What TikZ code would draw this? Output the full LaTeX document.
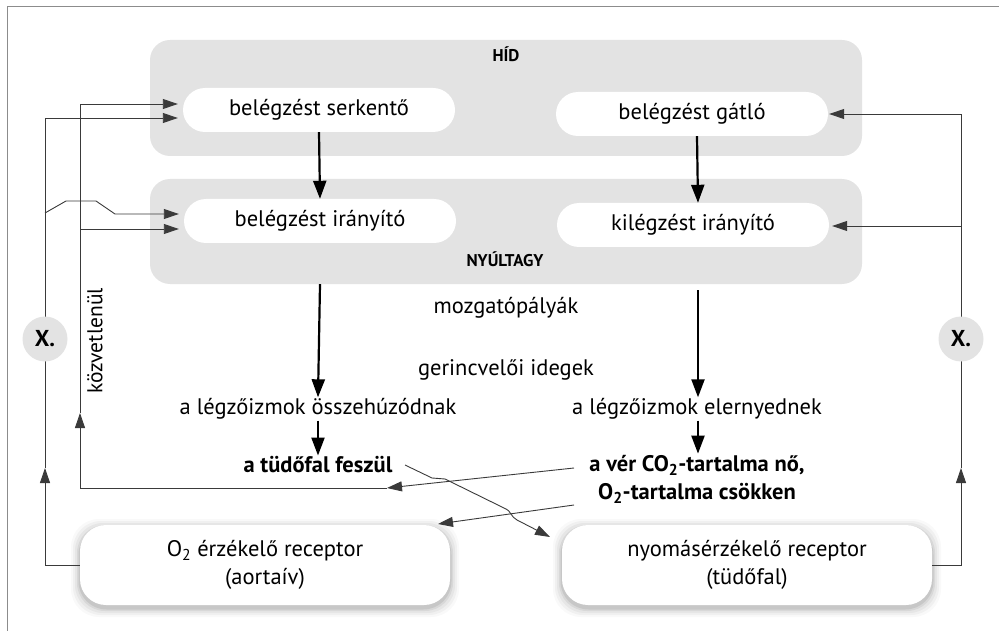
\documentclass[tikz,border=0pt]{standalone}
\usepackage{fontspec}
\setmainfont{PT Sans}
\usetikzlibrary{arrows.meta,calc}
\definecolor{boxgray}{HTML}{E3E3E3}
\definecolor{linegray}{HTML}{3A3A3A}
\definecolor{framegray}{HTML}{8C8C8C}
\begin{document}
\begin{tikzpicture}[x=1pt,y=-1pt,
  font=\fontsize{22.5}{26}\selectfont,
  graybox/.style={rounded corners=20pt, fill=boxgray, minimum width=712pt, inner sep=0pt},
  pill/.style={rounded corners=22pt, fill=white, minimum width=272pt, minimum height=44pt, inner sep=0pt},
  receptor/.style={rounded corners=26pt, fill=white, minimum width=370pt, minimum height=80pt, inner sep=0pt, align=center, font=\fontsize{22.5}{28}\selectfont},
  lbl/.style={font=\bfseries\fontsize{17}{19}\selectfont, inner sep=0pt},
  txt/.style={inner sep=1pt},
  btxt/.style={inner sep=1pt, font=\bfseries\fontsize{22.5}{28}\selectfont, align=center},
  xcirc/.style={circle, fill=boxgray, minimum size=45pt, inner sep=0pt, font=\bfseries\fontsize{23}{25}\selectfont},
  thickarr/.style={line width=2.2pt, -{Triangle[length=18pt,width=13pt]}},
  conn/.style={line width=0.9pt, draw=linegray, -{Triangle[length=15pt,width=10pt]}},
]
\useasboundingbox (0,0) rectangle (999,631);
% frame
\draw[framegray, line width=1pt] (7,640) -- (7,7) -- (1010,7);

% gray areas
\node[graybox, minimum height=116pt] (hid) at (506,98) {};
\node[graybox, minimum height=105pt] (nyul) at (506,231.5) {};
\node[lbl] (hidlbl) at (506,54) {HÍD};
\node[lbl] (nyullbl) at (505,259) {NYÚLTAGY};

% pills
\node[pill] (serk) at (319,110) {belégzést serkentő};
\node[pill] (gatlo) at (692,114) {belégzést gátló};
\node[pill] (belir) at (320,221) {belégzést irányító};
\node[pill] (kiir) at (693,225) {kilégzést irányító};

% text
\node[txt] (mozg) at (506,308) {mozgatópályák};
\node[txt] (gerinc) at (506,370) {gerincvelői idegek};
\node[txt] (osszeh) at (318,409) {a légzőizmok összehúzódnak};
\node[txt] (elern) at (697,409) {a légzőizmok elernyednek};
\node[btxt] (tudo) at (318,465) {a tüdőfal feszül};
\node[btxt] (ver) at (697,479) {a vér CO\textsubscript{2}-tartalma nő,\\O\textsubscript{2}-tartalma csökken};
\node[txt, rotate=90, font=\fontsize{21.5}{24}\selectfont] (kozv) at (95,341) {közvetlenül};

% receptor shadows
\foreach \r/\o in {9/0.025,7/0.035,5/0.045,3/0.06,1.5/0.08}{
  \fill[black, opacity=\o, rounded corners=28pt] (80-\r,525-\r+3) rectangle (450+\r,605+\r+3);
  \fill[black, opacity=\o, rounded corners=28pt] (562-\r,525-\r+3) rectangle (932+\r,605+\r+3);
}
\node[receptor] (o2) at (265,565) {O\textsubscript{2} érzékelő receptor\\(aortaív)};
\node[receptor] (nyom) at (747,565) {nyomásérzékelő receptor\\(tüdőfal)};

% thick arrows
\draw[thickarr] (serk.south) -- (belir.north);
\draw[thickarr] ([xshift=5pt]gatlo.south) -- ([xshift=5pt]kiir.north);
\draw[thickarr] (belir.south |- nyul.south) -- (osszeh.north);
\draw[thickarr] (698,290) coordinate (kstart) -- (elern.north -| kstart);
\draw[thickarr] (osszeh.south) -- (tudo.north);
\draw[thickarr] (elern.south -| kstart) -- (ver.north -| kstart);

% coordinates
\coordinate (aL) at (45,468);
\coordinate (jL) at (45,213);
\coordinate (iL) at (80,413);
\coordinate (bI) at (80,229);
\coordinate (hA) at (387,488);
\coordinate (v1) at (574,468);
\coordinate (v2) at (574,505);
\coordinate (o2t) at (438,524);
\coordinate (t1) at (405,465);
\coordinate (nt) at (550,537);
\coordinate (aR) at (961,468);
\coordinate (bR) at (961,226);

% outer left
\draw[conn] (o2.west) -| (aL);
\draw[conn, shorten >=5pt] (aL) |- ($(serk.west)+(0,8)$);
\draw[conn, shorten >=5pt] (jL) -- (66,201) -- (96,201) -- (115,214) -- ($(belir.west)+(0,-7)$);
% inner left (közvetlenül)
\draw[conn] (v1) -- (hA);
\draw[conn] (hA) -| (iL);
\draw[conn, shorten >=5pt] (iL) |- ($(serk.west)+(0,-6)$);
\draw[conn, shorten >=5pt] (bI) -- ($(belir.west)+(0,8)$);
% O2 receptor input
\draw[conn] (v2) -- (o2t);
% tüdőfal -> nyomás receptor
\draw[conn] (t1) -- (432,478) -- (445,479) -- (506,509) .. controls (510,510) and (511,517) .. (517,520) -- (nt);
% right
\draw[conn] (nyom.east) -| (aR);
\draw[conn, shorten >=1pt] (aR) |- (gatlo.east);
\draw[conn, shorten >=3pt] (bR) -- ($(kiir.east)+(0,1)$);

% X circles
\node[xcirc] (xl) at (45,339) {X.};
\node[xcirc] (xr) at (961,339) {X.};
\end{tikzpicture}
\end{document}
